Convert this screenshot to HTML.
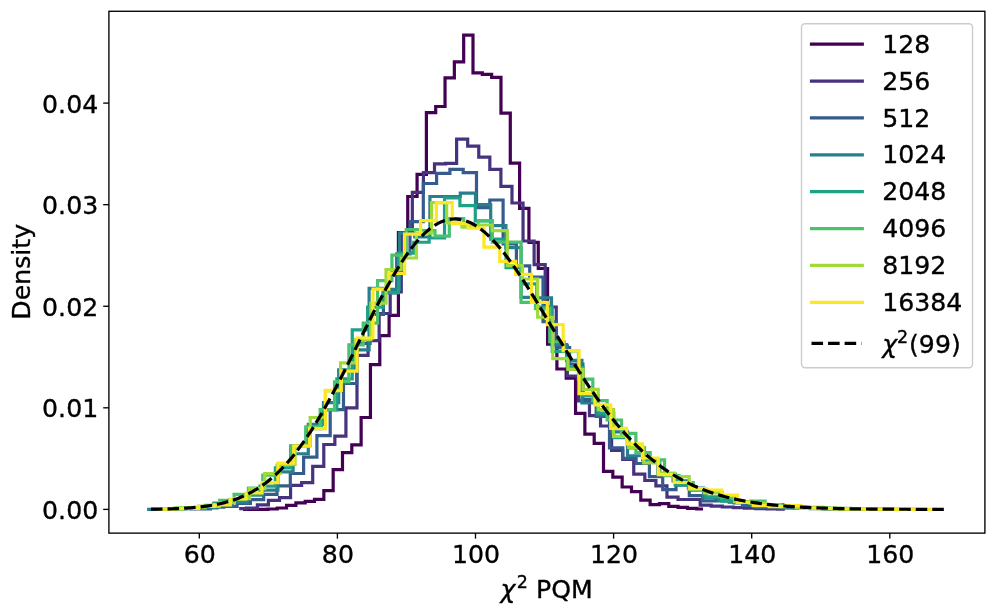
<!DOCTYPE html>
<html lang="en"><head><meta charset="utf-8"><title>chi2 PQM density</title>
<style>
html,body{margin:0;padding:0;background:#fff;}
body{width:996px;height:616px;overflow:hidden;}
svg{display:block;}
text{font-family:"DejaVu Sans","Liberation Sans",sans-serif;fill:#000;}
.tk{font-size:25.2px;stroke:#000;stroke-width:0.35px;}
.it{font-style:italic;}
</style></head><body>
<svg width="996" height="616" viewBox="0 0 996 616">
<rect x="0" y="0" width="996" height="616" fill="#ffffff"/>
<defs><clipPath id="ax"><rect x="109" y="11" width="876" height="522"/></clipPath></defs>

<g clip-path="url(#ax)" fill="none" stroke-linejoin="miter" stroke-miterlimit="10">
<path d="M244.60 509.40 L249.26 509.40 L249.26 509.40 L258.58 509.40 L258.58 509.40 L267.91 509.40 L267.91 509.00 L277.23 509.00 L277.23 508.00 L286.55 508.00 L286.55 505.40 L295.87 505.40 L295.87 502.80 L305.20 502.80 L305.20 501.40 L314.52 501.40 L314.52 499.40 L323.84 499.40 L323.84 490.70 L333.16 490.70 L333.16 469.70 L342.49 469.70 L342.49 452.60 L351.81 452.60 L351.81 444.80 L361.13 444.80 L361.13 417.50 L370.45 417.50 L370.45 364.60 L379.78 364.60 L379.78 335.60 L389.10 335.60 L389.10 315.40 L398.42 315.40 L398.42 232.50 L407.74 232.50 L407.74 196.50 L417.07 196.50 L417.07 174.30 L426.39 174.30 L426.39 112.60 L435.71 112.60 L435.71 106.50 L445.03 106.50 L445.03 77.90 L454.36 77.90 L454.36 61.85 L463.68 61.85 L463.68 35.10 L473.00 35.10 L473.00 72.90 L482.32 72.90 L482.32 74.30 L491.64 74.30 L491.64 77.30 L500.97 77.30 L500.97 113.20 L510.29 113.20 L510.29 163.10 L519.61 163.10 L519.61 208.40 L528.93 208.40 L528.93 242.40 L538.26 242.40 L538.26 268.50 L547.58 268.50 L547.58 344.20 L556.90 344.20 L556.90 369.00 L566.22 369.00 L566.22 378.10 L575.55 378.10 L575.55 413.30 L584.87 413.30 L584.87 434.20 L594.19 434.20 L594.19 443.30 L603.51 443.30 L603.51 471.40 L612.84 471.40 L612.84 477.20 L622.16 477.20 L622.16 487.00 L631.48 487.00 L631.48 491.60 L640.80 491.60 L640.80 500.10 L650.13 500.10 L650.13 504.60 L659.45 504.60 L659.45 503.60 L668.77 503.60 L668.77 506.45 L678.09 506.45 L678.09 507.40 L687.42 507.40 L687.42 508.40 L696.74 508.40 L696.74 509.00 L701.40 509.00" stroke="#440154" stroke-width="3.2" stroke-linecap="square"/>
<path d="M240.75 508.60 L246.29 508.60 L246.29 508.10 L257.36 508.10 L257.36 504.80 L268.43 504.80 L268.43 500.30 L279.50 500.30 L279.50 497.70 L290.57 497.70 L290.57 485.30 L301.64 485.30 L301.64 482.70 L312.71 482.70 L312.71 466.30 L323.78 466.30 L323.78 444.50 L334.85 444.50 L334.85 436.20 L345.92 436.20 L345.92 407.80 L356.99 407.80 L356.99 355.30 L368.06 355.30 L368.06 340.70 L379.13 340.70 L379.13 313.50 L390.20 313.50 L390.20 292.00 L401.27 292.00 L401.27 232.50 L412.34 232.50 L412.34 192.40 L423.41 192.40 L423.41 172.70 L434.48 172.70 L434.48 163.90 L445.55 163.90 L445.55 163.30 L456.62 163.30 L456.62 139.10 L467.69 139.10 L467.69 146.20 L478.76 146.20 L478.76 157.20 L489.83 157.20 L489.83 169.30 L500.90 169.30 L500.90 186.40 L511.98 186.40 L511.98 203.00 L523.05 203.00 L523.05 241.00 L534.12 241.00 L534.12 264.60 L545.19 264.60 L545.19 307.00 L556.26 307.00 L556.26 346.00 L567.33 346.00 L567.33 376.00 L578.40 376.00 L578.40 400.90 L589.47 400.90 L589.47 415.60 L600.54 415.60 L600.54 426.00 L611.61 426.00 L611.61 450.50 L622.68 450.50 L622.68 459.30 L633.75 459.30 L633.75 474.20 L644.82 474.20 L644.82 480.50 L655.89 480.50 L655.89 485.90 L666.96 485.90 L666.96 497.20 L678.03 497.20 L678.03 499.50 L689.10 499.50 L689.10 499.50 L700.17 499.50 L700.17 505.20 L711.24 505.20 L711.24 506.10 L722.31 506.10 L722.31 507.00 L733.38 507.00 L733.38 507.60 L744.45 507.60 L744.45 508.20 L755.52 508.20 L755.52 508.60 L766.59 508.60 L766.59 508.90 L777.66 508.90 L777.66 509.10 L783.20 509.10" stroke="#46327e" stroke-width="3.2" stroke-linecap="square"/>
<path d="M190.55 508.82 L197.20 508.82 L197.20 508.79 L210.50 508.79 L210.50 507.16 L223.80 507.16 L223.80 506.36 L237.10 506.36 L237.10 503.43 L250.40 503.43 L250.40 499.60 L263.70 499.60 L263.70 494.40 L277.00 494.40 L277.00 485.90 L290.30 485.90 L290.30 473.50 L303.60 473.50 L303.60 457.20 L316.90 457.20 L316.90 435.70 L330.20 435.70 L330.20 409.60 L343.50 409.60 L343.50 383.50 L356.80 383.50 L356.80 343.32 L370.10 343.32 L370.10 314.48 L383.40 314.48 L383.40 293.00 L396.70 293.00 L396.70 254.00 L410.00 254.00 L410.00 221.60 L423.30 221.60 L423.30 183.50 L436.60 183.50 L436.60 173.30 L449.90 173.30 L449.90 169.30 L463.20 169.30 L463.20 172.70 L476.50 172.70 L476.50 207.70 L489.80 207.70 L489.80 200.00 L503.10 200.00 L503.10 244.00 L516.40 244.00 L516.40 265.90 L529.70 265.90 L529.70 277.00 L543.00 277.00 L543.00 321.71 L556.30 321.71 L556.30 347.72 L569.60 347.72 L569.60 364.19 L582.90 364.19 L582.90 399.50 L596.20 399.50 L596.20 416.37 L609.50 416.37 L609.50 447.90 L622.80 447.90 L622.80 458.30 L636.10 458.30 L636.10 463.50 L649.40 463.50 L649.40 476.60 L662.70 476.60 L662.70 489.67 L676.00 489.67 L676.00 485.25 L689.30 485.25 L689.30 495.61 L702.60 495.61 L702.60 500.90 L715.90 500.90 L715.90 500.34 L729.20 500.34 L729.20 502.20 L742.50 502.20 L742.50 505.52 L755.80 505.52 L755.80 507.37 L769.10 507.37 L769.10 507.20 L782.40 507.20 L782.40 507.93 L795.70 507.93 L795.70 508.01 L809.00 508.01 L809.00 508.46 L822.30 508.46 L822.30 508.85 L835.60 508.85 L835.60 508.98 L842.25 508.98" stroke="#365c8d" stroke-width="3.2" stroke-linecap="square"/>
<path d="M148.70 509.36 L156.30 509.36 L156.30 509.27 L171.50 509.27 L171.50 508.82 L186.70 508.82 L186.70 508.05 L201.90 508.05 L201.90 508.00 L217.10 508.00 L217.10 505.08 L232.30 505.08 L232.30 502.27 L247.50 502.27 L247.50 494.90 L262.70 494.90 L262.70 490.09 L277.90 490.09 L277.90 471.82 L293.10 471.82 L293.10 453.74 L308.30 453.74 L308.30 424.39 L323.50 424.39 L323.50 402.61 L338.70 402.61 L338.70 369.89 L353.90 369.89 L353.90 349.97 L369.10 349.97 L369.10 288.33 L384.30 288.33 L384.30 289.36 L399.50 289.36 L399.50 233.10 L414.70 233.10 L414.70 237.00 L429.90 237.00 L429.90 196.50 L445.10 196.50 L445.10 196.50 L460.30 196.50 L460.30 193.20 L475.50 193.20 L475.50 204.60 L490.70 204.60 L490.70 225.60 L505.90 225.60 L505.90 247.70 L521.10 247.70 L521.10 297.36 L536.30 297.36 L536.30 297.90 L551.50 297.90 L551.50 344.64 L566.70 344.64 L566.70 360.45 L581.90 360.45 L581.90 403.00 L597.10 403.00 L597.10 415.00 L612.30 415.00 L612.30 431.90 L627.50 431.90 L627.50 455.77 L642.70 455.77 L642.70 459.86 L657.90 459.86 L657.90 474.09 L673.10 474.09 L673.10 480.79 L688.30 480.79 L688.30 488.20 L703.50 488.20 L703.50 497.65 L718.70 497.65 L718.70 500.98 L733.90 500.98 L733.90 502.83 L749.10 502.83 L749.10 503.76 L764.30 503.76 L764.30 505.32 L779.50 505.32 L779.50 507.76 L794.70 507.76 L794.70 508.32 L809.90 508.32 L809.90 508.77 L825.10 508.77 L825.10 508.99 L840.30 508.99 L840.30 509.07 L855.50 509.07 L855.50 509.17 L870.70 509.17 L870.70 509.18 L885.90 509.18 L885.90 509.33 L893.50 509.33" stroke="#277f8e" stroke-width="3.2" stroke-linecap="square"/>
<path d="M160.00 509.25 L167.69 509.25 L167.69 509.03 L183.07 509.03 L183.07 508.29 L198.45 508.29 L198.45 506.43 L213.83 506.43 L213.83 502.98 L229.21 502.98 L229.21 500.05 L244.59 500.05 L244.59 494.88 L259.97 494.88 L259.97 486.13 L275.35 486.13 L275.35 467.95 L290.73 467.95 L290.73 445.87 L306.11 445.87 L306.11 428.60 L321.49 428.60 L321.49 409.89 L336.87 409.89 L336.87 378.93 L352.25 378.93 L352.25 329.79 L367.63 329.79 L367.63 307.17 L383.01 307.17 L383.01 292.55 L398.39 292.55 L398.39 253.03 L413.77 253.03 L413.77 242.26 L429.15 242.26 L429.15 238.00 L444.53 238.00 L444.53 198.00 L459.91 198.00 L459.91 205.60 L475.29 205.60 L475.29 221.00 L490.67 221.00 L490.67 239.20 L506.05 239.20 L506.05 267.54 L521.43 267.54 L521.43 283.78 L536.81 283.78 L536.81 307.13 L552.19 307.13 L552.19 351.46 L567.57 351.46 L567.57 367.62 L582.95 367.62 L582.95 395.95 L598.33 395.95 L598.33 413.10 L613.71 413.10 L613.71 437.55 L629.09 437.55 L629.09 447.90 L644.47 447.90 L644.47 461.92 L659.85 461.92 L659.85 474.04 L675.23 474.04 L675.23 485.01 L690.61 485.01 L690.61 490.12 L705.99 490.12 L705.99 496.86 L721.37 496.86 L721.37 501.11 L736.75 501.11 L736.75 501.50 L752.13 501.50 L752.13 505.45 L767.51 505.45 L767.51 504.52 L782.89 504.52 L782.89 506.27 L798.27 506.27 L798.27 508.29 L813.65 508.29 L813.65 508.10 L829.03 508.10 L829.03 508.91 L844.41 508.91 L844.41 508.89 L859.79 508.89 L859.79 509.07 L875.17 509.07 L875.17 509.27 L890.55 509.27 L890.55 509.31 L905.93 509.31 L905.93 509.35 L913.62 509.35" stroke="#1fa187" stroke-width="3.2" stroke-linecap="square"/>
<path d="M169.50 508.65 L176.68 508.65 L176.68 507.83 L191.03 507.83 L191.03 507.92 L205.38 507.92 L205.38 505.33 L219.72 505.33 L219.72 500.46 L234.07 500.46 L234.07 494.42 L248.43 494.42 L248.43 488.18 L262.77 488.18 L262.77 475.09 L277.12 475.09 L277.12 464.98 L291.48 464.98 L291.48 446.40 L305.82 446.40 L305.82 426.89 L320.17 426.89 L320.17 409.51 L334.52 409.51 L334.52 381.73 L348.88 381.73 L348.88 344.97 L363.23 344.97 L363.23 323.12 L377.57 323.12 L377.57 280.65 L391.92 280.65 L391.92 255.07 L406.27 255.07 L406.27 229.49 L420.62 229.49 L420.62 230.72 L434.97 230.72 L434.97 236.20 L449.32 236.20 L449.32 218.60 L463.68 218.60 L463.68 227.00 L478.02 227.00 L478.02 220.60 L492.38 220.60 L492.38 242.20 L506.72 242.20 L506.72 242.20 L521.08 242.20 L521.08 302.36 L535.42 302.36 L535.42 308.75 L549.77 308.75 L549.77 341.75 L564.12 341.75 L564.12 350.87 L578.47 350.87 L578.47 379.07 L592.83 379.07 L592.83 400.58 L607.17 400.58 L607.17 420.01 L621.52 420.01 L621.52 433.42 L635.88 433.42 L635.88 452.50 L650.22 452.50 L650.22 459.84 L664.58 459.84 L664.58 475.61 L678.92 475.61 L678.92 482.68 L693.27 482.68 L693.27 490.28 L707.62 490.28 L707.62 492.42 L721.98 492.42 L721.98 497.68 L736.32 497.68 L736.32 502.23 L750.67 502.23 L750.67 500.99 L765.02 500.99 L765.02 505.34 L779.38 505.34 L779.38 506.32 L793.73 506.32 L793.73 506.82 L808.07 506.82 L808.07 507.27 L822.42 507.27 L822.42 508.40 L836.77 508.40 L836.77 508.39 L851.12 508.39 L851.12 508.85 L865.48 508.85 L865.48 509.18 L872.65 509.18" stroke="#4ac16d" stroke-width="3.2" stroke-linecap="square"/>
<path d="M166.20 508.94 L173.78 508.94 L173.78 508.21 L188.94 508.21 L188.94 507.50 L204.10 507.50 L204.10 506.29 L219.26 506.29 L219.26 502.67 L234.42 502.67 L234.42 498.63 L249.58 498.63 L249.58 488.68 L264.74 488.68 L264.74 473.55 L279.90 473.55 L279.90 464.35 L295.06 464.35 L295.06 446.02 L310.22 446.02 L310.22 417.49 L325.38 417.49 L325.38 391.02 L340.54 391.02 L340.54 362.93 L355.70 362.93 L355.70 339.64 L370.86 339.64 L370.86 303.16 L386.02 303.16 L386.02 269.57 L401.18 269.57 L401.18 258.00 L416.34 258.00 L416.34 233.10 L431.50 233.10 L431.50 202.60 L446.66 202.60 L446.66 223.00 L461.82 223.00 L461.82 227.00 L476.98 227.00 L476.98 225.00 L492.14 225.00 L492.14 230.70 L507.30 230.70 L507.30 265.58 L522.46 265.58 L522.46 279.00 L537.62 279.00 L537.62 317.23 L552.78 317.23 L552.78 358.69 L567.94 358.69 L567.94 369.29 L583.10 369.29 L583.10 389.33 L598.26 389.33 L598.26 409.63 L613.42 409.63 L613.42 436.41 L628.58 436.41 L628.58 447.35 L643.74 447.35 L643.74 462.79 L658.90 462.79 L658.90 473.15 L674.06 473.15 L674.06 476.57 L689.22 476.57 L689.22 489.09 L704.38 489.09 L704.38 492.87 L719.54 492.87 L719.54 495.58 L734.70 495.58 L734.70 501.53 L749.86 501.53 L749.86 503.26 L765.02 503.26 L765.02 504.83 L780.18 504.83 L780.18 506.24 L795.34 506.24 L795.34 508.01 L810.50 508.01 L810.50 507.89 L825.66 507.89 L825.66 508.06 L840.82 508.06 L840.82 508.97 L855.98 508.97 L855.98 508.81 L871.14 508.81 L871.14 509.08 L886.30 509.08 L886.30 509.28 L901.46 509.28 L901.46 509.24 L909.04 509.24" stroke="#a0da39" stroke-width="3.2" stroke-linecap="square"/>
<path d="M159.00 509.20 L166.93 509.20 L166.93 508.92 L182.78 508.92 L182.78 508.35 L198.62 508.35 L198.62 506.45 L214.47 506.45 L214.47 504.80 L230.32 504.80 L230.32 499.00 L246.18 499.00 L246.18 493.00 L262.02 493.00 L262.02 482.60 L277.88 482.60 L277.88 463.10 L293.73 463.10 L293.73 446.20 L309.57 446.20 L309.57 428.60 L325.42 428.60 L325.42 390.40 L341.27 390.40 L341.27 371.20 L357.12 371.20 L357.12 338.00 L372.98 338.00 L372.98 289.20 L388.82 289.20 L388.82 273.50 L404.67 273.50 L404.67 234.20 L420.52 234.20 L420.52 220.60 L436.38 220.60 L436.38 202.60 L452.22 202.60 L452.22 223.70 L468.07 223.70 L468.07 228.20 L483.93 228.20 L483.93 247.20 L499.77 247.20 L499.77 261.30 L515.62 261.30 L515.62 274.40 L531.47 274.40 L531.47 302.40 L547.33 302.40 L547.33 324.60 L563.17 324.60 L563.17 350.70 L579.02 350.70 L579.02 393.70 L594.88 393.70 L594.88 404.80 L610.72 404.80 L610.72 428.30 L626.58 428.30 L626.58 443.90 L642.42 443.90 L642.42 458.00 L658.27 458.00 L658.27 474.60 L674.12 474.60 L674.12 482.50 L689.98 482.50 L689.98 488.50 L705.82 488.50 L705.82 490.13 L721.67 490.13 L721.67 495.07 L737.52 495.07 L737.52 502.49 L753.38 502.49 L753.38 505.65 L769.23 505.65 L769.23 506.70 L785.07 506.70 L785.07 505.71 L800.92 505.71 L800.92 508.13 L816.77 508.13 L816.77 508.60 L832.62 508.60 L832.62 508.87 L848.48 508.87 L848.48 508.87 L864.32 508.87 L864.32 509.06 L880.17 509.06 L880.17 509.10 L896.02 509.10 L896.02 509.21 L911.88 509.21 L911.88 509.34 L927.73 509.34 L927.73 509.36 L935.65 509.36" stroke="#fde725" stroke-width="3.2" stroke-linecap="square"/>
<path d="M150.97 509.21 L152.96 509.18 L154.95 509.16 L156.94 509.12 L158.93 509.09 L160.92 509.05 L162.91 509.01 L164.90 508.97 L166.89 508.92 L168.88 508.86 L170.87 508.80 L172.86 508.74 L174.85 508.66 L176.84 508.58 L178.83 508.50 L180.82 508.40 L182.81 508.30 L184.80 508.18 L186.79 508.06 L188.78 507.93 L190.77 507.78 L192.76 507.62 L194.75 507.45 L196.74 507.27 L198.73 507.06 L200.72 506.85 L202.71 506.62 L204.70 506.36 L206.69 506.09 L208.68 505.80 L210.67 505.49 L212.66 505.16 L214.65 504.80 L216.64 504.41 L218.63 504.00 L220.62 503.57 L222.61 503.10 L224.60 502.60 L226.59 502.07 L228.58 501.51 L230.57 500.91 L232.56 500.28 L234.55 499.61 L236.54 498.90 L238.53 498.14 L240.52 497.35 L242.51 496.51 L244.50 495.63 L246.49 494.69 L248.48 493.71 L250.47 492.68 L252.46 491.60 L254.45 490.46 L256.44 489.27 L258.43 488.02 L260.42 486.71 L262.41 485.34 L264.40 483.92 L266.39 482.43 L268.38 480.87 L270.37 479.25 L272.36 477.57 L274.36 475.82 L276.35 474.00 L278.34 472.11 L280.33 470.16 L282.32 468.13 L284.31 466.03 L286.30 463.86 L288.29 461.62 L290.28 459.31 L292.27 456.92 L294.26 454.46 L296.25 451.93 L298.24 449.32 L300.23 446.65 L302.22 443.90 L304.21 441.08 L306.20 438.19 L308.19 435.23 L310.18 432.20 L312.17 429.10 L314.16 425.94 L316.15 422.71 L318.14 419.42 L320.13 416.06 L322.12 412.65 L324.11 409.18 L326.10 405.65 L328.09 402.06 L330.08 398.43 L332.07 394.75 L334.06 391.02 L336.05 387.25 L338.04 383.43 L340.03 379.58 L342.02 375.70 L344.01 371.78 L346.00 367.84 L347.99 363.87 L349.98 359.89 L351.97 355.88 L353.96 351.86 L355.95 347.84 L357.94 343.80 L359.93 339.77 L361.92 335.74 L363.91 331.71 L365.90 327.70 L367.89 323.70 L369.88 319.72 L371.87 315.77 L373.86 311.84 L375.85 307.95 L377.84 304.09 L379.83 300.27 L381.82 296.49 L383.81 292.77 L385.80 289.09 L387.79 285.48 L389.78 281.92 L391.77 278.43 L393.76 275.01 L395.76 271.66 L397.75 268.39 L399.74 265.20 L401.73 262.09 L403.72 259.07 L405.71 256.13 L407.70 253.29 L409.69 250.55 L411.68 247.91 L413.67 245.37 L415.66 242.93 L417.65 240.60 L419.64 238.39 L421.63 236.28 L423.62 234.29 L425.61 232.41 L427.60 230.65 L429.59 229.01 L431.58 227.49 L433.57 226.10 L435.56 224.82 L437.55 223.67 L439.54 222.65 L441.53 221.75 L443.52 220.97 L445.51 220.32 L447.50 219.80 L449.49 219.41 L451.48 219.14 L453.47 218.99 L455.46 218.97 L457.45 219.08 L459.44 219.30 L461.43 219.65 L463.42 220.12 L465.41 220.71 L467.40 221.42 L469.39 222.25 L471.38 223.19 L473.37 224.24 L475.36 225.41 L477.35 226.68 L479.34 228.06 L481.33 229.55 L483.32 231.14 L485.31 232.82 L487.30 234.61 L489.29 236.49 L491.28 238.46 L493.27 240.52 L495.26 242.67 L497.25 244.90 L499.24 247.22 L501.23 249.61 L503.22 252.07 L505.21 254.61 L507.20 257.21 L509.19 259.88 L511.18 262.62 L513.17 265.41 L515.16 268.25 L517.15 271.15 L519.15 274.10 L521.14 277.10 L523.13 280.14 L525.12 283.21 L527.11 286.33 L529.10 289.48 L531.09 292.66 L533.08 295.87 L535.07 299.10 L537.06 302.35 L539.05 305.63 L541.04 308.91 L543.03 312.22 L545.02 315.53 L547.01 318.85 L549.00 322.18 L550.99 325.50 L552.98 328.83 L554.97 332.16 L556.96 335.48 L558.95 338.79 L560.94 342.09 L562.93 345.39 L564.92 348.67 L566.91 351.93 L568.90 355.17 L570.89 358.40 L572.88 361.60 L574.87 364.78 L576.86 367.94 L578.85 371.07 L580.84 374.17 L582.83 377.24 L584.82 380.28 L586.81 383.29 L588.80 386.27 L590.79 389.21 L592.78 392.11 L594.77 394.98 L596.76 397.81 L598.75 400.61 L600.74 403.36 L602.73 406.08 L604.72 408.75 L606.71 411.38 L608.70 413.97 L610.69 416.52 L612.68 419.03 L614.67 421.49 L616.66 423.91 L618.65 426.29 L620.64 428.62 L622.63 430.91 L624.62 433.15 L626.61 435.35 L628.60 437.51 L630.59 439.62 L632.58 441.69 L634.57 443.72 L636.56 445.70 L638.55 447.63 L640.55 449.53 L642.54 451.38 L644.53 453.19 L646.52 454.96 L648.51 456.68 L650.50 458.37 L652.49 460.01 L654.48 461.61 L656.47 463.17 L658.46 464.69 L660.45 466.18 L662.44 467.62 L664.43 469.03 L666.42 470.40 L668.41 471.73 L670.40 473.02 L672.39 474.28 L674.38 475.50 L676.37 476.69 L678.36 477.85 L680.35 478.97 L682.34 480.06 L684.33 481.11 L686.32 482.14 L688.31 483.13 L690.30 484.10 L692.29 485.03 L694.28 485.93 L696.27 486.81 L698.26 487.66 L700.25 488.48 L702.24 489.28 L704.23 490.05 L706.22 490.79 L708.21 491.51 L710.20 492.21 L712.19 492.88 L714.18 493.53 L716.17 494.16 L718.16 494.76 L720.15 495.35 L722.14 495.91 L724.13 496.46 L726.12 496.98 L728.11 497.49 L730.10 497.98 L732.09 498.45 L734.08 498.90 L736.07 499.34 L738.06 499.76 L740.05 500.16 L742.04 500.55 L744.03 500.93 L746.02 501.29 L748.01 501.64 L750.00 501.97 L751.99 502.29 L753.98 502.60 L755.97 502.90 L757.96 503.18 L759.95 503.46 L761.95 503.72 L763.94 503.97 L765.93 504.21 L767.92 504.45 L769.91 504.67 L771.90 504.88 L773.89 505.09 L775.88 505.28 L777.87 505.47 L779.86 505.65 L781.85 505.82 L783.84 505.99 L785.83 506.15 L787.82 506.30 L789.81 506.45 L791.80 506.58 L793.79 506.72 L795.78 506.84 L797.77 506.97 L799.76 507.08 L801.75 507.19 L803.74 507.30 L805.73 507.40 L807.72 507.50 L809.71 507.59 L811.70 507.68 L813.69 507.76 L815.68 507.84 L817.67 507.92 L819.66 507.99 L821.65 508.06 L823.64 508.13 L825.63 508.19 L827.62 508.25 L829.61 508.31 L831.60 508.37 L833.59 508.42 L835.58 508.47 L837.57 508.52 L839.56 508.56 L841.55 508.60 L843.54 508.64 L845.53 508.68 L847.52 508.72 L849.51 508.76 L851.50 508.79 L853.49 508.82 L855.48 508.85 L857.47 508.88 L859.46 508.91 L861.45 508.93 L863.44 508.96 L865.43 508.98 L867.42 509.00 L869.41 509.03 L871.40 509.05 L873.39 509.07 L875.38 509.08 L877.37 509.10 L879.36 509.12 L881.35 509.13 L883.34 509.15 L885.34 509.16 L887.33 509.17 L889.32 509.19 L891.31 509.20 L893.30 509.21 L895.29 509.22 L897.28 509.23 L899.27 509.24 L901.26 509.25 L903.25 509.26 L905.24 509.26 L907.23 509.27 L909.22 509.28 L911.21 509.29 L913.20 509.29 L915.19 509.30 L917.18 509.30 L919.17 509.31 L921.16 509.32 L923.15 509.32 L925.14 509.32 L927.13 509.33 L929.12 509.33 L931.11 509.34 L933.10 509.34 L935.09 509.34 L937.08 509.35 L939.07 509.35 L941.06 509.35 L943.05 509.36 L945.04 509.36" stroke="#000" stroke-width="3.2" stroke-dasharray="11.56 5" stroke-linecap="butt" stroke-linejoin="round"/>
</g>
<rect x="108.9" y="11.28" width="876" height="521.85" fill="none" stroke="#000" stroke-width="1.35"/>
<g stroke="#000" stroke-width="1.35">
<line x1="199.30" y1="533" x2="199.30" y2="538.6"/>
<line x1="337.40" y1="533" x2="337.40" y2="538.6"/>
<line x1="475.50" y1="533" x2="475.50" y2="538.6"/>
<line x1="613.60" y1="533" x2="613.60" y2="538.6"/>
<line x1="751.70" y1="533" x2="751.70" y2="538.6"/>
<line x1="889.80" y1="533" x2="889.80" y2="538.6"/>
<line x1="103.2" y1="509.40" x2="109" y2="509.40"/>
<line x1="103.2" y1="407.82" x2="109" y2="407.82"/>
<line x1="103.2" y1="306.25" x2="109" y2="306.25"/>
<line x1="103.2" y1="204.68" x2="109" y2="204.68"/>
<line x1="103.2" y1="103.10" x2="109" y2="103.10"/>
</g>
<g class="tk">
<text x="199.80" y="563.3" text-anchor="middle">60</text>
<text x="337.90" y="563.3" text-anchor="middle">80</text>
<text x="476.00" y="563.3" text-anchor="middle">100</text>
<text x="614.10" y="563.3" text-anchor="middle">120</text>
<text x="752.20" y="563.3" text-anchor="middle">140</text>
<text x="890.30" y="563.3" text-anchor="middle">160</text>
<text x="98.2" y="518.90" text-anchor="end">0.00</text>
<text x="98.2" y="417.32" text-anchor="end">0.01</text>
<text x="98.2" y="315.75" text-anchor="end">0.02</text>
<text x="98.2" y="214.18" text-anchor="end">0.03</text>
<text x="98.2" y="112.60" text-anchor="end">0.04</text>
</g>
<text class="tk" x="500.5" y="597.5"><tspan class="it">χ</tspan><tspan dy="-9.5" dx="1.3" font-size="17.5px">2</tspan><tspan dy="9.5" dx="0.2"> PQM</tspan></text>
<text class="tk" transform="translate(30.1 271.8) rotate(-90)" text-anchor="middle">Density</text>
<rect x="801.5" y="23.8" width="171" height="343.9" rx="3.5" ry="3.5" fill="#ffffff" fill-opacity="0.8" stroke="#cccccc" stroke-width="1.4"/>
<line x1="811.5" y1="44.20" x2="862.3" y2="44.20" stroke="#440154" stroke-width="3.2" stroke-linecap="square"/>
<text class="tk" x="882.2" y="52.80">128</text>
<line x1="811.5" y1="81.07" x2="862.3" y2="81.07" stroke="#46327e" stroke-width="3.2" stroke-linecap="square"/>
<text class="tk" x="882.2" y="89.67">256</text>
<line x1="811.5" y1="117.94" x2="862.3" y2="117.94" stroke="#365c8d" stroke-width="3.2" stroke-linecap="square"/>
<text class="tk" x="882.2" y="126.54">512</text>
<line x1="811.5" y1="154.81" x2="862.3" y2="154.81" stroke="#277f8e" stroke-width="3.2" stroke-linecap="square"/>
<text class="tk" x="882.2" y="163.41">1024</text>
<line x1="811.5" y1="191.68" x2="862.3" y2="191.68" stroke="#1fa187" stroke-width="3.2" stroke-linecap="square"/>
<text class="tk" x="882.2" y="200.28">2048</text>
<line x1="811.5" y1="228.55" x2="862.3" y2="228.55" stroke="#4ac16d" stroke-width="3.2" stroke-linecap="square"/>
<text class="tk" x="882.2" y="237.15">4096</text>
<line x1="811.5" y1="265.42" x2="862.3" y2="265.42" stroke="#a0da39" stroke-width="3.2" stroke-linecap="square"/>
<text class="tk" x="882.2" y="274.02">8192</text>
<line x1="811.5" y1="302.29" x2="862.3" y2="302.29" stroke="#fde725" stroke-width="3.2" stroke-linecap="square"/>
<text class="tk" x="882.2" y="310.89">16384</text>
<line x1="811.5" y1="343.40" x2="861.5" y2="343.40" stroke="#000" stroke-width="3.2" stroke-dasharray="11.56 5"/>
<text class="tk" x="882.2" y="352.90"><tspan class="it">χ</tspan><tspan dy="-9.5" font-size="17.5px">2</tspan><tspan dy="9.5" dx="0.8">(99)</tspan></text>
</svg></body></html>
